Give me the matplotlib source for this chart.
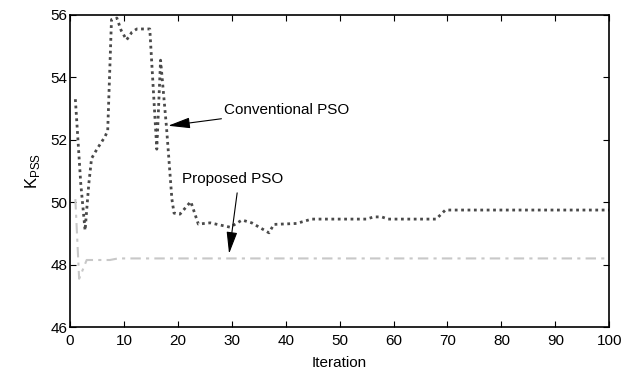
import matplotlib
matplotlib.use("Agg")
import matplotlib.pyplot as plt

plt.rcParams['font.family'] = ['Liberation Sans', 'DejaVu Sans']
plt.rcParams['font.size'] = 11

# conventional PSO
conv_it = [1, 2, 2.8, 3.5, 4, 5, 6.5, 7.0, 7.7, 8.7, 9.5, 10.5, 11.5, 12.4, 14.8,
           16.1, 16.8, 17.9, 18.9, 19.3, 20.4, 22.4, 23.8, 26, 29.7, 31.9, 33.7,
           36.9, 37.8, 42, 44.8, 55, 56.3, 57.8, 59, 67.9, 69.6, 100]
conv_k = [53.3, 50.6, 49.1, 50.6, 51.4, 51.7, 52.1, 52.3, 55.85, 55.9, 55.5, 55.2,
          55.45, 55.55, 55.55, 51.7, 54.55, 52.4, 50.1, 49.65, 49.62, 50.02, 49.3,
          49.34, 49.2, 49.43, 49.34, 49.02, 49.29, 49.32, 49.46, 49.46, 49.53,
          49.53, 49.46, 49.46, 49.75, 49.75]

# proposed PSO
prop_it = [1, 1.7, 3.1, 7.4, 8.9, 100]
prop_k = [50.1, 47.55, 48.15, 48.15, 48.2, 48.2]

fig = plt.figure(figsize=(6.36, 3.73), dpi=100)
ax = fig.add_axes([0.110, 0.123, 0.848, 0.837])

ax.plot(conv_it, conv_k, color='#4a4a4a', lw=2, linestyle=(0, (1, 1.3)))
ax.plot(prop_it, prop_k, color='#c8c8c8', lw=1.5, linestyle=(0, (5, 2.5, 1.5, 2.5)))

ax.set_xlim(0, 100)
ax.set_ylim(46, 56)
ax.set_xticks(range(0, 101, 10))
ax.set_yticks(range(46, 57, 2))
ax.tick_params(direction='in', top=True, right=True, length=4, pad=2)
ax.tick_params(axis='x', pad=5)
for s in ax.spines.values():
    s.set_linewidth(1.2)
ax.set_xlabel('Iteration', labelpad=6)
ax.set_ylabel(r'K$_{\mathregular{PSS}}$', fontsize=12, labelpad=6)

arrow = dict(arrowstyle='-|>,head_length=0.9,head_width=0.22', color='black',
             lw=0.8, mutation_scale=15, shrinkA=0, shrinkB=0)
ax.annotate('Conventional PSO', xy=(18.2, 52.45), xytext=(28.6, 52.95),
            va='center', ha='left', arrowprops=arrow)
ax.annotate('', xy=(29.5, 48.35), xytext=(31.0, 50.3), arrowprops=arrow)
ax.text(20.8, 50.75, 'Proposed PSO', va='center', ha='left')

fig.savefig('out.png', dpi=100)
